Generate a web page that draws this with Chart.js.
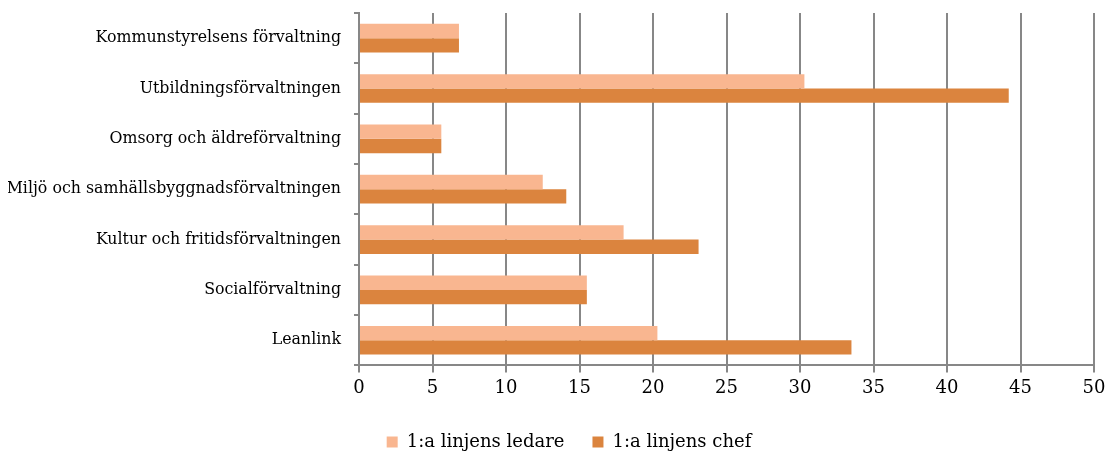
<!DOCTYPE html>
<html>
<head>
<meta charset="utf-8">
<script src="https://cdn.jsdelivr.net/npm/chart.js@4"></script>
<style>
html,body{margin:0;padding:0;background:#fff;}
#wrap{width:1106px;height:451px;position:relative;}
</style>
</head>
<body>
<div id="wrap"><canvas id="c" width="1106" height="451"></canvas></div>
<script>
const categories = [
  "Kommunstyrelsens förvaltning",
  "Utbildningsförvaltningen",
  "Omsorg och äldreförvaltning",
  "Miljö och samhällsbyggnadsförvaltningen",
  "Kultur och fritidsförvaltningen",
  "Socialförvaltning",
  "Leanlink"
];
const seriesNames = ["1:a linjens ledare", "1:a linjens chef"];
const ledare = [6.8, 30.3, 5.6, 12.5, 18.0, 15.5, 20.3];
const chef = [6.8, 44.2, 5.6, 14.1, 23.1, 15.5, 33.5];
const xTicks = [0, 5, 10, 15, 20, 25, 30, 35, 40, 45, 50];

const FONT = "'DejaVu Serif', serif";
const GRID = "#878787";

const legendShift = {
  id: 'legendShift',
  afterLayout(chart) {
    const l = chart.legend;
    if (!l) return;
    l.left += 18; l.right += 18;
    l.top += 1; l.bottom += 1;
  }
};

new Chart(document.getElementById('c'), {
  type: 'bar',
  data: {
    labels: categories,
    datasets: [
      {label: seriesNames[0], data: ledare, backgroundColor: '#F9B690', borderWidth: 0,
       categoryPercentage: 0.57, barPercentage: 1.0},
      {label: seriesNames[1], data: chef, backgroundColor: '#DB843E', borderWidth: 0,
       categoryPercentage: 0.57, barPercentage: 1.0}
    ]
  },
  options: {
    indexAxis: 'y',
    responsive: false,
    animation: false,
    layout: {padding: {left: 8, right: 12, top: 13, bottom: 0}},
    scales: {
      x: {
        min: xTicks[0], max: xTicks[xTicks.length - 1],
        afterBuildTicks: (ax) => { ax.ticks = xTicks.map(v => ({value: v})); },
        afterFit: (ax) => { ax.paddingLeft = 0; ax.paddingRight = 0; },
        grid: {color: GRID, lineWidth: 2, tickLength: 7, drawOnChartArea: true},
        border: {color: GRID, width: 2},
        ticks: {color: '#000', font: {family: FONT, size: 18}, padding: 5}
      },
      y: {
        afterFit: (ax) => { ax.paddingTop = 0; ax.paddingBottom = 0; ax.width = 351; },
        grid: {drawOnChartArea: false, color: GRID, lineWidth: 2, tickLength: 5, offset: true},
        border: {color: GRID, width: 2},
        ticks: {color: '#000', font: {family: FONT, size: 15.8}, padding: 13}
      }
    },
    plugins: {
      legend: {
        position: 'bottom',
        maxHeight: 47,
        labels: {color: '#000', font: {family: FONT, size: 18}, boxWidth: 11, boxHeight: 11, padding: 28}
      },
      tooltip: {enabled: false}
    }
  },
  plugins: [legendShift]
});
</script>
</body>
</html>
